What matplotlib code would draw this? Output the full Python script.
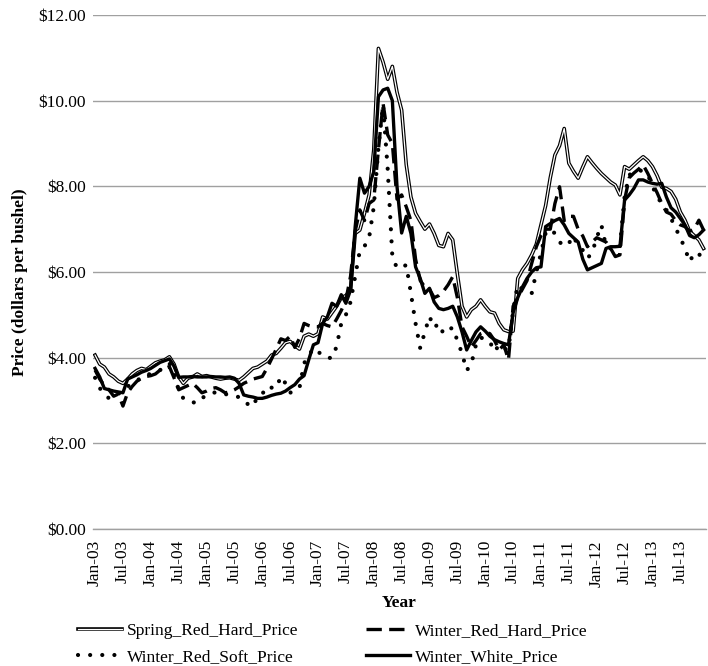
import matplotlib
matplotlib.use('Agg')
import matplotlib.pyplot as plt
from matplotlib.lines import Line2D
from matplotlib.legend_handler import HandlerTuple
from matplotlib.ticker import FuncFormatter

plt.rcParams['font.family'] = ['Liberation Serif', 'DejaVu Serif']

# monthly prices, Jan-03 .. Dec-13 (dollars per bushel)
years = list(range(2003, 2014))
months = ['Jan', 'Feb', 'Mar', 'Apr', 'May', 'Jun',
          'Jul', 'Aug', 'Sep', 'Oct', 'Nov', 'Dec']
month_labels = [f'{m}-{y % 100:02d}' for y in years for m in months]

spring_red_hard = [
    4.06, 3.85, 3.78, 3.62, 3.55, 3.45, 3.40, 3.50, 3.62, 3.70, 3.75, 3.72,
    3.80, 3.88, 3.92, 3.95, 4.02, 3.85, 3.55, 3.40, 3.52, 3.55, 3.62, 3.56,
    3.58, 3.55, 3.52, 3.50, 3.52, 3.53, 3.50, 3.47, 3.55, 3.65, 3.75, 3.78,
    3.85, 3.92, 4.06, 4.10, 4.22, 4.35, 4.38, 4.28, 4.20, 4.50, 4.55, 4.50,
    4.56, 4.95, 4.90, 5.05, 5.20, 5.40, 5.45, 5.58, 6.90, 6.98, 7.37, 7.80,
    8.85, 11.22, 10.90, 10.50, 10.80, 10.20, 9.78, 8.50, 7.75, 7.37, 7.18, 7.00,
    7.12, 6.90, 6.62, 6.59, 6.90, 6.75, 5.95, 5.20, 4.95, 5.12, 5.20, 5.35,
    5.20, 5.07, 5.04, 4.80, 4.65, 4.61, 4.62, 5.85, 6.05, 6.20, 6.40, 6.65,
    7.10, 7.55, 8.20, 8.73, 8.95, 9.35, 8.54, 8.35, 8.19, 8.45, 8.69, 8.55,
    8.42, 8.30, 8.20, 8.10, 8.03, 7.80, 8.46, 8.40, 8.50, 8.60, 8.69, 8.60,
    8.46, 8.25, 7.98, 7.95, 7.88, 7.70, 7.40, 7.21, 6.95, 6.85, 6.75, 6.55,
]

winter_red_hard = [
    3.71, 3.50, 3.35, 3.25, 3.10, 3.15, 2.87, 3.18, 3.33, 3.45, 3.52, 3.56,
    3.58, 3.62, 3.71, 3.75, 3.79, 3.53, 3.25, 3.30, 3.35, 3.40, 3.30, 3.18,
    3.22, 3.28, 3.30, 3.25, 3.18, 3.20, 3.25, 3.32, 3.40, 3.45, 3.50, 3.53,
    3.56, 3.75, 3.97, 4.20, 4.44, 4.40, 4.50, 4.24, 4.45, 4.80, 4.75, 4.72,
    4.72, 4.80, 4.75, 4.72, 4.90, 5.10, 5.35, 5.90, 6.95, 7.45, 7.20, 7.60,
    7.68, 8.85, 9.94, 9.20, 9.00, 7.70, 7.80, 7.52, 7.20, 6.30, 5.80, 5.65,
    5.60, 5.40, 5.45, 5.55, 5.70, 5.89, 5.40, 4.72, 4.50, 4.25, 4.40, 4.56,
    4.60, 4.56, 4.40, 4.18, 4.30, 3.95, 5.20, 5.40, 5.60, 5.80, 6.20, 6.59,
    6.85, 7.00, 7.00, 7.60, 7.99, 7.20, 7.30, 7.30, 7.00, 6.84, 6.59, 6.70,
    6.80, 6.75, 6.70, 6.55, 6.36, 6.40, 7.68, 8.20, 8.31, 8.40, 8.50, 8.30,
    8.07, 7.85, 7.60, 7.40, 7.35, 7.20, 7.10, 7.06, 6.95, 7.00, 7.21, 6.98,
]

winter_red_soft = [
    3.53, 3.29, 3.15, 3.05, 3.10, 3.15, 3.25, 3.33, 3.38, 3.45, 3.56, 3.60,
    3.62, 3.68, 3.71, 3.78, 3.87, 3.63, 3.25, 3.05, 2.98, 2.96, 2.94, 3.05,
    3.13, 3.15, 3.20, 3.18, 3.15, 3.13, 3.10, 3.08, 3.02, 2.90, 2.86, 3.10,
    3.15, 3.33, 3.30, 3.29, 3.56, 3.40, 3.18, 3.25, 3.29, 3.87, 4.05, 4.22,
    4.15, 4.03, 4.00, 3.99, 4.26, 4.80, 5.00, 5.30, 5.90, 6.50, 6.60, 6.80,
    7.52, 8.90, 9.90, 8.40, 6.36, 6.09, 6.12, 6.16, 5.50, 4.80, 4.22, 4.60,
    4.96, 4.70, 4.80, 4.56, 4.65, 4.70, 4.40, 4.10, 3.70, 3.85, 4.30, 4.48,
    4.40, 4.37, 4.14, 4.30, 4.20, 4.20, 5.10, 5.70, 5.60, 5.55, 5.50, 6.00,
    6.44, 6.91, 7.00, 6.90, 6.70, 6.60, 6.67, 6.84, 6.60, 6.51, 6.32, 6.45,
    6.80, 7.10, 6.60, 6.55, 6.50, 6.60, 7.76, 8.27, 8.30, 8.38, 8.35, 8.27,
    8.00, 7.76, 7.60, 7.45, 7.25, 7.02, 6.80, 6.55, 6.24, 6.44, 6.44, 6.17,
]

winter_white = [
    3.75, 3.55, 3.28, 3.25, 3.22, 3.20, 3.18, 3.50, 3.55, 3.60, 3.66, 3.70,
    3.75, 3.82, 3.89, 3.93, 3.97, 3.80, 3.54, 3.55, 3.55, 3.56, 3.55, 3.55,
    3.55, 3.56, 3.55, 3.55, 3.54, 3.55, 3.52, 3.40, 3.13, 3.10, 3.08, 3.05,
    3.05, 3.08, 3.12, 3.15, 3.17, 3.22, 3.30, 3.37, 3.50, 3.58, 3.95, 4.30,
    4.35, 4.80, 4.95, 5.27, 5.20, 5.47, 5.27, 5.58, 7.06, 8.19, 7.84, 8.00,
    8.34, 10.09, 10.25, 10.29, 10.00, 8.00, 6.91, 7.30, 6.90, 6.12, 5.85, 5.50,
    5.62, 5.30, 5.15, 5.12, 5.15, 5.20, 4.95, 4.60, 4.18, 4.40, 4.60, 4.72,
    4.62, 4.50, 4.42, 4.37, 4.33, 4.30, 5.05, 5.40, 5.65, 5.85, 6.00, 6.10,
    6.12, 7.06, 7.13, 7.20, 7.25, 7.10, 6.90, 6.80, 6.70, 6.30, 6.05, 6.10,
    6.15, 6.20, 6.55, 6.59, 6.59, 6.60, 7.68, 7.80, 7.95, 8.15, 8.15, 8.10,
    8.07, 8.05, 8.07, 7.75, 7.50, 7.40, 7.25, 7.10, 6.85, 6.80, 6.87, 6.98,
]

y_ticks = [0, 2, 4, 6, 8, 10, 12]

fig = plt.figure(figsize=(7.08, 6.66), dpi=100)
ax = fig.add_axes([0.131, 0.2057, 0.866, 0.7718])

x = list(range(len(month_labels)))

# Spring: white line with black outline (double line)
ax.plot(x, spring_red_hard, color='black', linewidth=2.6, zorder=3)
ax.plot(x, spring_red_hard, color='white', linewidth=0.9, zorder=3)
ax.plot(x, winter_red_hard, color='black', linewidth=2.4,
        linestyle=(0, (4.6, 2.2)), zorder=4)
ax.plot(x, winter_red_soft, color='black', linewidth=3.0,
        linestyle=(0, (0.01, 2.9)), dash_capstyle='round', zorder=5)
ax.plot(x, winter_white, color='black', linewidth=2.4, zorder=6)

ax.set_xlim(-0.5, len(x) - 0.5)
ax.set_ylim(0, 12)
ax.set_yticks(y_ticks)
ax.yaxis.set_major_formatter(FuncFormatter(lambda v, p: f'${v:.2f}'))
ax.set_xticks(x[::6])
ax.set_xticklabels(month_labels[::6], rotation=90)

ax.grid(axis='y', color='#a0a0a0', linewidth=1.0)
ax.set_axisbelow(True)
for s in ['top', 'right', 'left']:
    ax.spines[s].set_visible(False)
ax.spines['bottom'].set_color('#a0a0a0')
ax.spines['bottom'].set_linewidth(1.0)
ax.tick_params(axis='both', length=0, labelsize=12.5, colors='black')
ax.tick_params(axis='y', pad=5)
ax.tick_params(axis='x', pad=8)

ax.set_xlabel('Year', fontsize=12.5, fontweight='bold')
ax.xaxis.set_label_coords(0.5, -0.128)
ax.set_ylabel('Price (dollars per bushel)', fontsize=12.5, fontweight='bold')
ax.yaxis.set_label_coords(-0.106, 0.48)

h_spring = (Line2D([], [], color='black', linewidth=2.6),
            Line2D([], [], color='white', linewidth=0.9))
h_wrh = Line2D([], [], color='black', linewidth=2.4, linestyle=(0, (4.6, 2.2)))
h_wrs = Line2D([], [], color='black', linewidth=3.0, linestyle=(0, (0.01, 2.9)),
               dash_capstyle='round')
h_ww = Line2D([], [], color='black', linewidth=2.4)

fig.legend([h_spring, h_wrs, h_wrh, h_ww],
           ['Spring_Red_Hard_Price', 'Winter_Red_Soft_Price',
            'Winter_Red_Hard_Price', 'Winter_White_Price'],
           handler_map={tuple: HandlerTuple(ndivide=1)},
           ncol=2, loc='center', bbox_to_anchor=(333 / 708, 1 - 644 / 666),
           frameon=False, fontsize=12.5, handlelength=2.5, handletextpad=0.3,
           columnspacing=3.9, labelspacing=0.6)

fig.savefig('out.png', dpi=100, facecolor='white')
plt.close(fig)
